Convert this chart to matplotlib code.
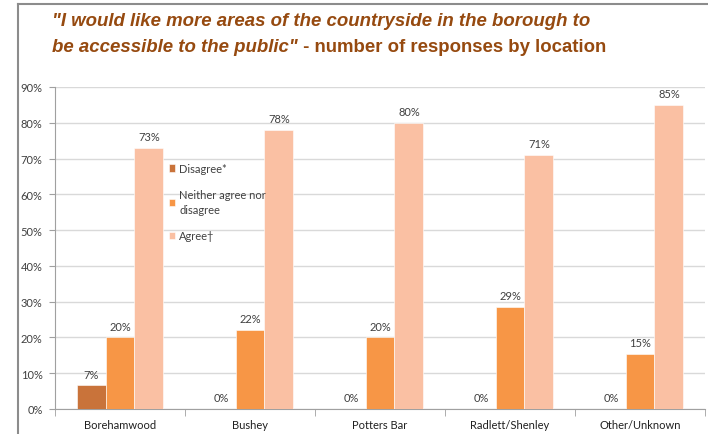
import numpy as np
import matplotlib.pyplot as plt
from matplotlib.lines import Line2D

locations = ['Borehamwood', 'Bushey', 'Potters Bar', 'Radlett/Shenley', 'Other/Unknown']
disagree = [6.6, 0, 0, 0, 0]
neither = [20.0, 22.2, 20.0, 28.6, 15.4]
agree = [73.0, 78.0, 80.0, 71.0, 85.0]
series_names = ['Disagree*', 'Neither agree nor\ndisagree', 'Agree\u2020']
colors = ['#C9733A', '#F79646', '#FAC0A3']

plt.rcParams['font.family'] = ['Lato', 'DejaVu Sans']

fig = plt.figure(figsize=(7.08, 4.35), dpi=100)
ax = fig.add_axes([55 / 708, 1 - 410 / 435, 650 / 708, 322 / 435])

x = np.arange(len(locations))
w = 0.223
for i, (vals, name, c) in enumerate(zip([disagree, neither, agree], series_names, colors)):
    pos = x + (i - 1) * w
    ax.bar(pos, vals, width=w, color=c, label=name, zorder=3, edgecolor='white', linewidth=0.4)
    for p, v in zip(pos, vals):
        ax.annotate(f'{v:.0f}%', (p, v), xytext=(0, 4), textcoords='offset points',
                    ha='center', va='bottom', fontsize=8, color='#404040')

ax.set_xlim(-0.5, len(locations) - 0.5)
ax.set_ylim(0, 90)
ax.set_yticks(np.arange(0, 91, 10))
ax.set_yticklabels([f'{v}%' for v in range(0, 91, 10)], fontsize=8, color='#404040')
ax.set_xticks(x)
ax.set_xticklabels(locations, fontsize=8, color='#202020')
ax.tick_params(axis='x', length=0, pad=7)
ax.tick_params(axis='y', length=4, color='#A0A0A0', pad=5)
ax.set_xticks(np.arange(-0.5, len(locations)), minor=True)
ax.tick_params(axis='x', which='minor', length=5, color='#A0A0A0')
ax.grid(axis='y', color='#D9D9D9', linewidth=1, zorder=0)
for s in ['top', 'right']:
    ax.spines[s].set_visible(False)
ax.spines['left'].set_color('#A0A0A0')
ax.spines['bottom'].set_color('#A0A0A0')

leg = ax.legend(loc='upper left', bbox_to_anchor=(0.168, 0.778), frameon=False, fontsize=8,
                handlelength=0.6, handleheight=0.6, handletextpad=0.35, labelspacing=1.4,
                borderaxespad=0)
for t in leg.get_texts():
    t.set_color('#404040')
    t.set_linespacing(1.35)

# outer frame
fig.add_artist(Line2D([18 / 708, 18 / 708], [0, 1 - 5 / 435], transform=fig.transFigure,
                      color='#8C8C8C', linewidth=1.5))
fig.add_artist(Line2D([18 / 708, 1], [1 - 5 / 435, 1 - 5 / 435], transform=fig.transFigure,
                      color='#8C8C8C', linewidth=1.5))

title_color = '#964A10'
fig.text(52 / 708, 1 - 22 / 435, '"I would like more areas of the countryside in the borough to',
         fontsize=13.4, fontweight='bold', style='italic', color=title_color,
         family='Liberation Sans', va='center')
t2 = fig.text(52 / 708, 1 - 48 / 435, 'be accessible to the public"',
              fontsize=13.4, fontweight='bold', style='italic', color=title_color,
              family='Liberation Sans', va='center')
ax.annotate(' - number of responses by location', xy=(1, 0), xycoords=t2, va='bottom',
            fontsize=13.4, fontweight='bold', color=title_color, family='Liberation Sans',
            annotation_clip=False)

fig.savefig('out.png', dpi=100)
